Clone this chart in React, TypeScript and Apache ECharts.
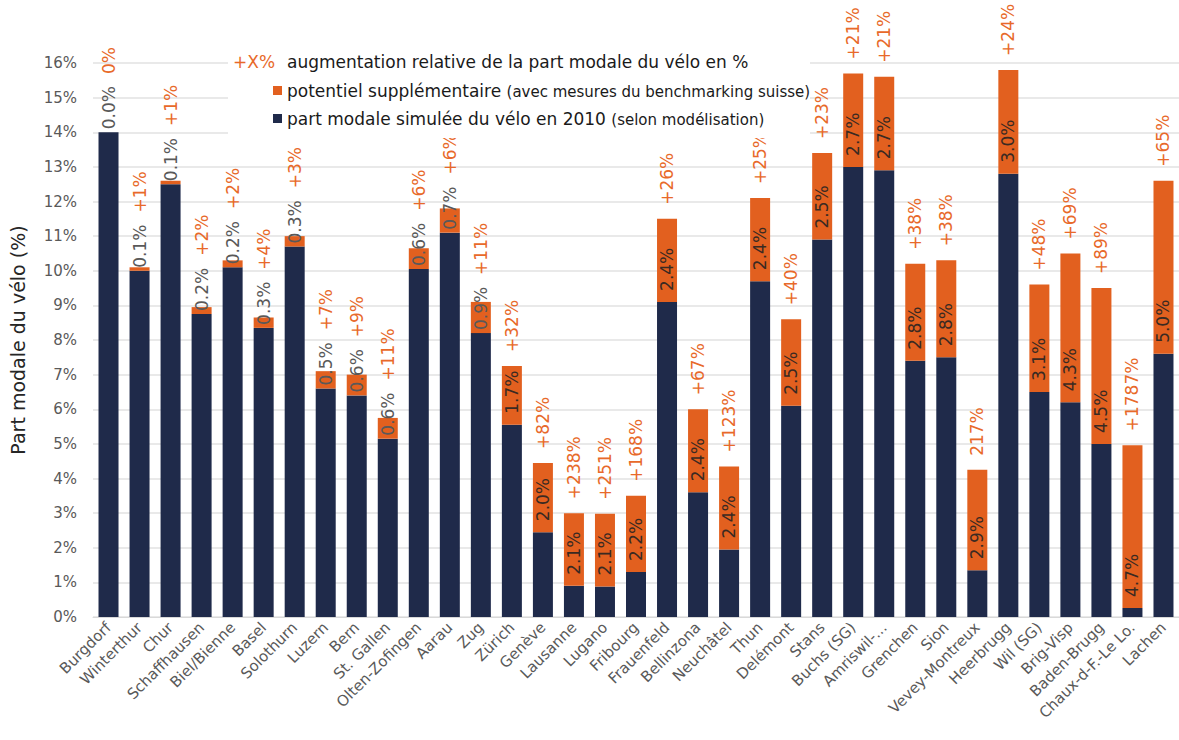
import React, { useEffect, useRef } from 'react';
import * as echarts from 'echarts';

const cities = [
  'Burgdorf', 'Winterthur', 'Chur', 'Schaffhausen', 'Biel/Bienne', 'Basel', 'Solothurn', 'Luzern', 'Bern',
  'St. Gallen', 'Olten-Zofingen', 'Aarau', 'Zug', 'Zürich', 'Genève', 'Lausanne', 'Lugano', 'Fribourg',
  'Frauenfeld', 'Bellinzona', 'Neuchâtel', 'Thun', 'Delémont', 'Stans', 'Buchs (SG)', 'Amriswil-...',
  'Grenchen', 'Sion', 'Vevey-Montreux', 'Heerbrugg', 'Wil (SG)', 'Brig-Visp', 'Baden-Brugg',
  'Chaux-d-F.-Le Lo.', 'Lachen',
];

// part modale simulée du vélo en 2010 (%)
const simulated = [
  14.0, 10.0, 12.5, 8.75, 10.1, 8.35, 10.7, 6.6, 6.4, 5.15, 10.05, 11.1, 8.2, 5.55, 2.45, 0.9, 0.88, 1.3,
  9.1, 3.6, 1.95, 9.7, 6.1, 10.9, 13.0, 12.9, 7.4, 7.5, 1.35, 12.8, 6.5, 6.2, 5.0, 0.26, 7.6,
];

// potentiel supplémentaire (%)
const potential = [
  0.0, 0.1, 0.1, 0.2, 0.2, 0.3, 0.3, 0.5, 0.6, 0.6, 0.6, 0.7, 0.9, 1.7, 2.0, 2.1, 2.1, 2.2,
  2.4, 2.4, 2.4, 2.4, 2.5, 2.5, 2.7, 2.7, 2.8, 2.8, 2.9, 3.0, 3.1, 4.3, 4.5, 4.7, 5.0,
];

// augmentation relative
const increase = [
  '0%', '+1%', '+1%', '+2%', '+2%', '+4%', '+3%', '+7%', '+9%', '+11%', '+6%', '+6%', '+11%', '+32%',
  '+82%', '+238%', '+251%', '+168%', '+26%', '+67%', '+123%', '+25%', '+40%', '+23%', '+21%', '+21%',
  '+38%', '+38%', '217%', '+24%', '+48%', '+69%', '+89%', '+1787%', '+65%',
];

const NAVY = '#1f2a4a';
const ORANGE = '#e2601f';
const ORANGE_TEXT = '#e8692a';
const FONT = 'DejaVu Sans';
const LABEL_SIZE = 17;

export default function App() {
  const ref = useRef<HTMLDivElement>(null);

  useEffect(() => {
    if (!ref.current) return;
    const chart = echarts.init(ref.current, null, { renderer: 'svg' });

    const H = 740;
    const gridTop = 63;
    const gridBottom = 123;
    const pxPerUnit = (H - gridTop - gridBottom) / 16;

    const ctx = document.createElement('canvas').getContext('2d')!;
    ctx.font = `${LABEL_SIZE}px "${FONT}"`;

    const INSIDE_DIST = 11;
    const OUT_DIST = 3;

    const layout = potential.map((v) => {
      const txt = v.toFixed(1) + '%';
      const seg = v * pxPerUnit;
      const len = ctx.measureText(txt).width;
      const inside = len + INSIDE_DIST <= seg;
      return { seg, len, inside };
    });

    const potData = potential.map((v, i) => {
      const { inside } = layout[i];
      return {
        value: v,
        label: inside
          ? { distance: INSIDE_DIST, color: '#3a2a22' }
          : { distance: OUT_DIST, color: '#595959' },
      };
    });

    const incData = potential.map((v, i) => {
      const { seg, len, inside } = layout[i];
      const dist = inside ? 14 : OUT_DIST + len - seg + 12;
      return { value: 0, label: { distance: dist } };
    });

    ctx.font = `17px "${FONT}"`;
    const w2 = ctx.measureText('potentiel supplémentaire ').width;
    const w3 = ctx.measureText('part modale simulée du vélo en 2010 ').width;

    const legendX = 287;
    chart.setOption({
      animation: false,
      backgroundColor: '#ffffff',
      textStyle: { fontFamily: FONT },
      grid: { left: 90.4, top: gridTop, width: 1094.8, bottom: gridBottom, containLabel: false },
      xAxis: {
        type: 'category',
        data: cities,
        axisTick: { show: false },
        axisLine: { show: true, lineStyle: { color: '#d9d9d9', width: 1 } },
        axisLabel: {
          interval: 0,
          rotate: 45,
          fontSize: 15,
          fontFamily: FONT,
          color: '#595959',
          margin: 8,
        },
      },
      yAxis: {
        type: 'value',
        min: 0,
        max: 16,
        interval: 1,
        name: 'Part modale du vélo (%)',
        nameLocation: 'middle',
        nameGap: 66,
        nameTextStyle: { fontSize: 19, fontFamily: FONT, color: '#262626' },
        axisLine: { show: false },
        axisTick: { show: false },
        axisLabel: { formatter: '{value}%', fontSize: 15, fontFamily: FONT, color: '#595959', margin: 16 },
        splitLine: { lineStyle: { color: '#e2e2e2', width: 1.5 } },
      },
      series: [
        {
          name: 'part modale simulée du vélo en 2010',
          type: 'bar',
          stack: 'total',
          barWidth: 20,
          silent: true,
          itemStyle: { color: NAVY },
          data: simulated,
        },
        {
          name: 'potentiel supplémentaire',
          type: 'bar',
          stack: 'total',
          barWidth: 20,
          silent: true,
          itemStyle: { color: ORANGE },
          label: {
            show: true,
            rotate: 90,
            position: 'insideBottom',
            align: 'left',
            verticalAlign: 'middle',
            fontSize: LABEL_SIZE,
            fontFamily: FONT,
            formatter: (p: any) => Number(p.value).toFixed(1) + '%',
          },
          data: potData,
        },
        {
          name: 'augmentation relative',
          type: 'bar',
          stack: 'total',
          barWidth: 20,
          silent: true,
          itemStyle: { color: 'rgba(0,0,0,0)' },
          label: {
            show: true,
            rotate: 90,
            position: 'insideBottom',
            align: 'left',
            verticalAlign: 'middle',
            fontSize: LABEL_SIZE,
            fontFamily: FONT,
            color: ORANGE_TEXT,
            formatter: (p: any) => increase[p.dataIndex],
          },
          data: incData,
        },
      ],
      graphic: [
        { type: 'rect', z: 100, shape: { x: 228, y: 45, width: 582, height: 93 }, style: { fill: '#ffffff' } },
        {
          type: 'text', z: 101, x: 233, y: 62,
          style: { text: '+X%', fill: ORANGE_TEXT, fontSize: 17, fontFamily: FONT, verticalAlign: 'middle' },
        },
        {
          type: 'text', z: 101, x: legendX, y: 62,
          style: {
            text: 'augmentation relative de la part modale du vélo en %',
            fill: '#1a1a1a', fontSize: 17, fontFamily: FONT, verticalAlign: 'middle',
          },
        },
        { type: 'rect', z: 101, shape: { x: 273, y: 86, width: 9, height: 9 }, style: { fill: ORANGE } },
        {
          type: 'text', z: 101, x: legendX, y: 91,
          style: { text: 'potentiel supplémentaire', fill: '#1a1a1a', fontSize: 17, fontFamily: FONT, verticalAlign: 'middle' },
        },
        {
          type: 'text', z: 101, x: legendX + w2, y: 92,
          style: { text: '(avec mesures du benchmarking suisse)', fill: '#1a1a1a', fontSize: 15, fontFamily: FONT, verticalAlign: 'middle' },
        },
        { type: 'rect', z: 101, shape: { x: 273, y: 114, width: 9, height: 9 }, style: { fill: NAVY } },
        {
          type: 'text', z: 101, x: legendX, y: 119,
          style: { text: 'part modale simulée du vélo en 2010', fill: '#1a1a1a', fontSize: 17, fontFamily: FONT, verticalAlign: 'middle' },
        },
        {
          type: 'text', z: 101, x: legendX + w3, y: 120,
          style: { text: '(selon modélisation)', fill: '#1a1a1a', fontSize: 15, fontFamily: FONT, verticalAlign: 'middle' },
        },
      ],
    });

    return () => chart.dispose();
  }, []);

  return (
    <div
      ref={ref}
      style={{ position: 'fixed', left: 0, top: 0, width: 1179, height: 740, background: '#ffffff' }}
    />
  );
}
